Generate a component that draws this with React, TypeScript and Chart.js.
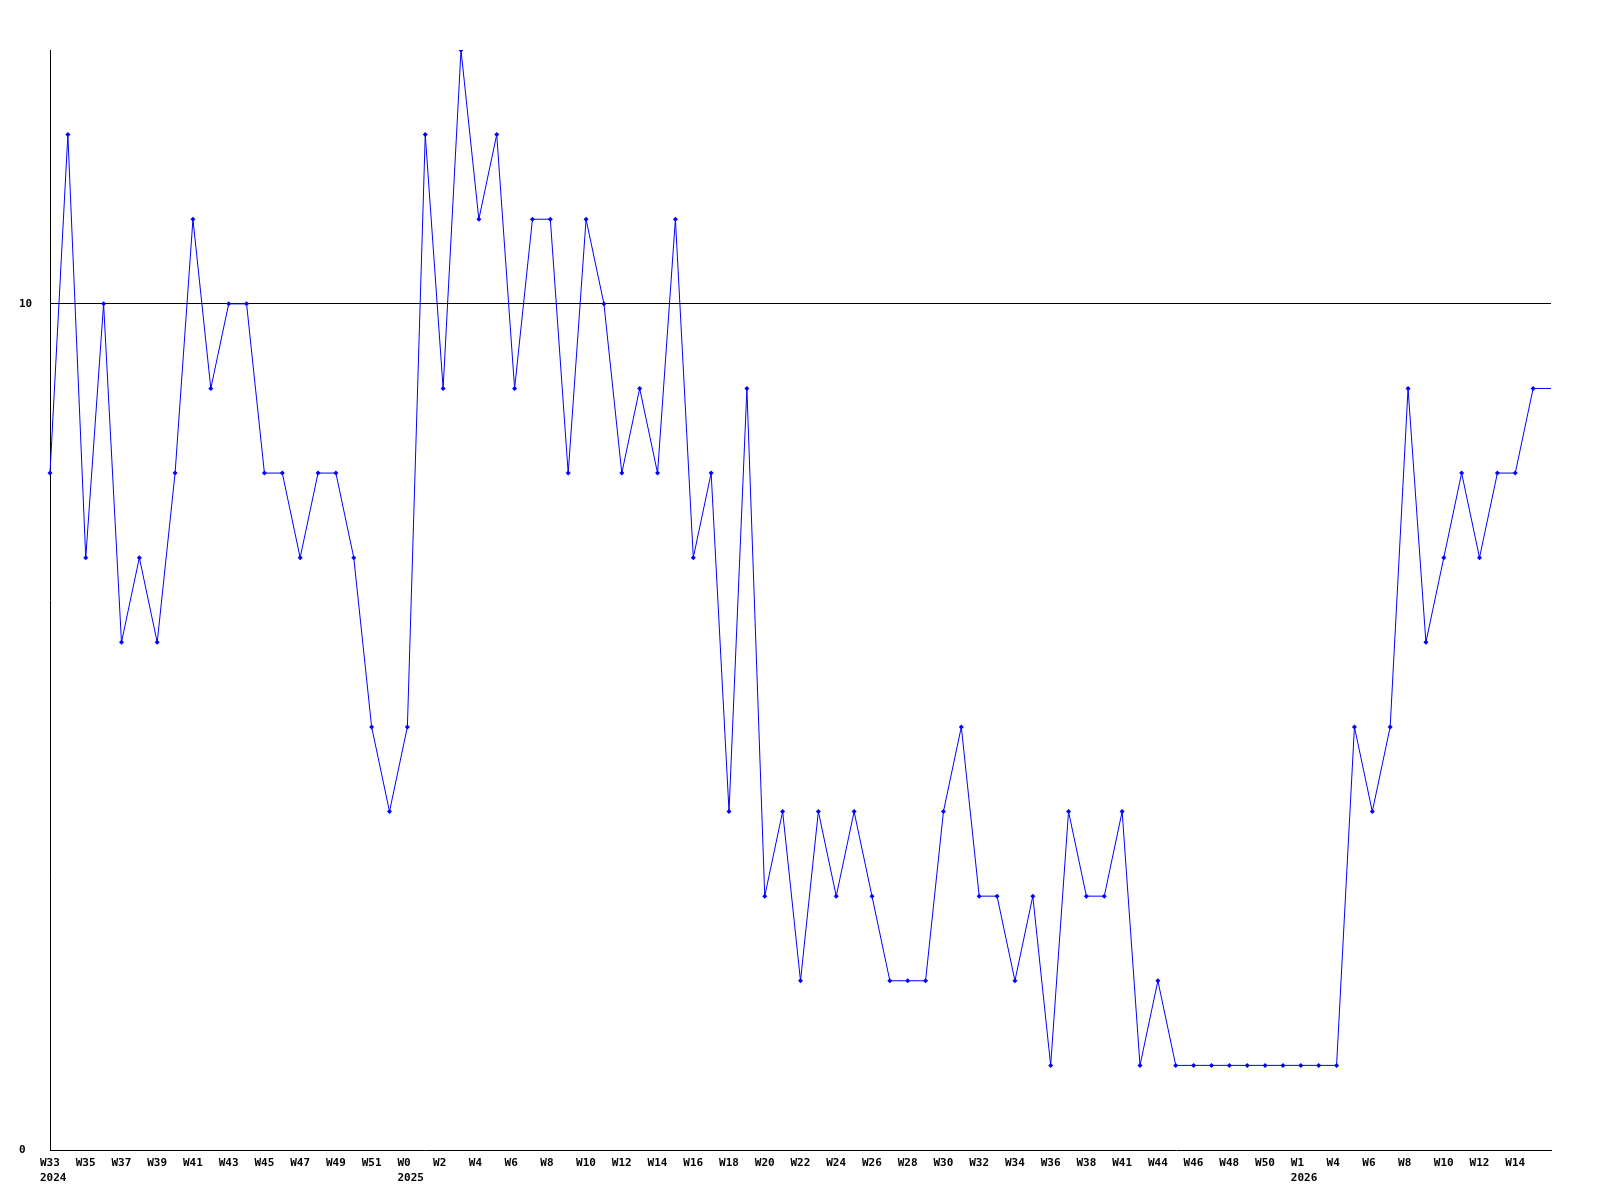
import React, { useEffect, useRef } from "react";
import { Chart, registerables } from "chart.js";

Chart.register(...registerables);

const weeks = [
  "W33","W34","W35","W36","W37","W38","W39","W40","W41","W42","W43","W44","W45","W46","W47","W48","W49","W50","W51","W52",
  "W0","W1","W2","W3","W4","W5","W6","W7","W8","W9","W10","W11","W12","W13","W14","W15","W16","W17","W18","W19",
  "W20","W21","W22","W23","W24","W25","W26","W27","W28","W29","W30","W31","W32","W33","W34","W35","W36","W37","W38",
  "W40","W41","W43","W44","W45","W46","W47","W48","W49","W50","W52",
  "W1","W3","W4","W5","W6","W7","W8","W9","W10","W11","W12","W13","W14","W15","W16",
];

const values = [
  8, 12, 7, 10, 6, 7, 6, 8, 11, 9, 10, 10, 8, 8, 7, 8, 8, 7, 5, 4,
  5, 12, 9, 13, 11, 12, 9, 11, 11, 8, 11, 10, 8, 9, 8, 11, 7, 8, 4, 9,
  3, 4, 2, 4, 3, 4, 3, 2, 2, 2, 4, 5, 3, 3, 2, 3, 1, 4, 3, 3,
  4, 1, 2, 1, 1, 1, 1, 1, 1, 1, 1, 1, 1, 5, 4, 5, 9, 6, 7, 8,
  7, 8, 8, 9, 9,
];

const yearIndex = [0, 20, 70];
const yearLabel = ["2024", "2025", "2026"];

const yTicks = [0, 10];

export default function App() {
  const ref = useRef<HTMLCanvasElement | null>(null);

  useEffect(() => {
    if (!ref.current) return;
    const font = { family: "'DejaVu Sans Mono', monospace", size: 11, weight: "bold" as const, lineHeight: 1.36 };
    const radii = values.map((_, i) => (i === values.length - 1 ? 0 : 2.5));
    const chart = new Chart(ref.current, {
      type: "line",
      data: {
        labels: weeks,
        datasets: [
          {
            data: values,
            borderColor: "#0000ff",
            backgroundColor: "#0000ff",
            borderWidth: 1,
            tension: 0,
            pointStyle: "rectRot",
            pointRadius: radii,
            pointBorderWidth: 0,
            pointBackgroundColor: "#0000ff",
          },
        ],
      },
      options: {
        responsive: false,
        animation: false,
        layout: { padding: { left: 19, top: 50, right: 49, bottom: 0 } },
        plugins: { legend: { display: false }, tooltip: { enabled: false } },
        scales: {
          x: {
            type: "category",
            offset: false,
            afterFit: (s: any) => {
              s.height = 50;
            },
            grid: { display: false, drawTicks: false },
            border: { display: true, color: "#000", width: 1 },
            ticks: {
              autoSkip: false,
              maxRotation: 0,
              minRotation: 0,
              align: "start",
              labelOffset: -10,
              padding: 6,
              color: "#000",
              font,
              callback: (_v: any, i: number) => {
                if (i % 2 !== 0 || i > 82) return "";
                const yi = yearIndex.indexOf(i);
                return yi >= 0 ? [weeks[i], yearLabel[yi]] : weeks[i];
              },
            },
          },
          y: {
            min: 0,
            max: 13,
            afterFit: (s: any) => {
              s.width = 31;
            },
            afterBuildTicks: (s: any) => {
              s.ticks = yTicks.map((v) => ({ value: v }));
            },
            grid: {
              drawTicks: false,
              color: (c: any) => (c.tick && c.tick.value === 10 ? "#000" : "rgba(0,0,0,0)"),
              lineWidth: 1,
            },
            border: { display: true, color: "#000", width: 1 },
            ticks: {
              crossAlign: "far",
              padding: 0,
              color: "#000",
              font: { ...font, lineHeight: 1.2 },
            },
          },
        },
      },
    });
    return () => chart.destroy();
  }, []);

  return (
    <div style={{ position: "absolute", left: 0, top: 0, width: 1600, height: 1200, background: "#fff" }}>
      <canvas ref={ref} width={1600} height={1200} />
    </div>
  );
}
